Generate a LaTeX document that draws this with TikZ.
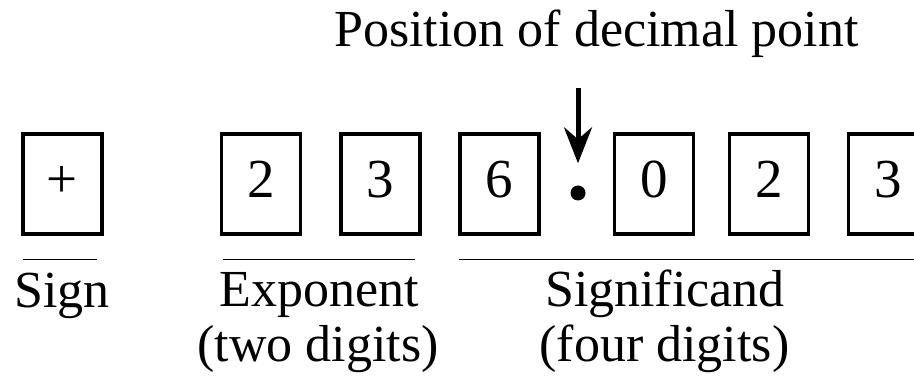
\documentclass[tikz,border=0pt]{standalone}
\usepackage{fontspec}
\setmainfont{Liberation Serif}
\usetikzlibrary{arrows.meta}

\begin{document}
\begin{tikzpicture}[x=1pt,y=-1pt,font=\fontsize{52}{62}\selectfont]

      \useasboundingbox (0,0) rectangle (914,379);

      \begin{scope}[every node/.style={draw, line width=3.5pt, minimum width=79pt, minimum height=100pt, inner sep=0pt, text height=37pt, text depth=9pt, font=\fontsize{55}{66}\selectfont}]
        \node (1) at (62.5,184)  {+};
        \node (2) at (261,184)   {2};
        \node (3) at (380.5,184) {3};
        \node (4) at (499.5,184) {6};
        \node (5) at (654,184)   {0};
        \node (6) at (769,184)   {2};
        \node (7) at (888,184)   {3};
      \end{scope}

      \node[circle, fill, inner sep=0pt, minimum size=15pt] (pt) at (578,193) {};

      \begin{scope}[every node/.style={anchor=base, inner sep=0pt}]
        \node (pos)  at (596.5,47) {Position of decimal point};
        \node (sgn)  at (62,308)   {Sign};
        \node (exp)  at (319,307)  {Exponent};
        \node (exp2) at (318,362)  {(two digits)};
        \node (sig)  at (665,307)  {Significand};
        \node (sig2) at (664.5,362) {(four digits)};
      \end{scope}

      \coordinate (tail) at (578,88);
      \draw[line width=5pt, -{Stealth[length=36pt, width=28pt, inset=12pt]}, shorten >=22pt] (tail) -- (pt.north);

      \coordinate (a1) at (23,259.5);
      \coordinate (a2) at (97,259.5);
      \coordinate (b1) at (223,259.5);
      \coordinate (b2) at (415,259.5);
      \coordinate (c1) at (459,259.5);
      \coordinate (c2) at (914,259.5);

      \begin{scope}[every path/.style={line width=1.5pt}]
        \draw (a1) -- (a2);
        \draw (b1) -- (b2);
        \draw (c1) -- (c2);
      \end{scope}

    \end{tikzpicture}
\end{document}
